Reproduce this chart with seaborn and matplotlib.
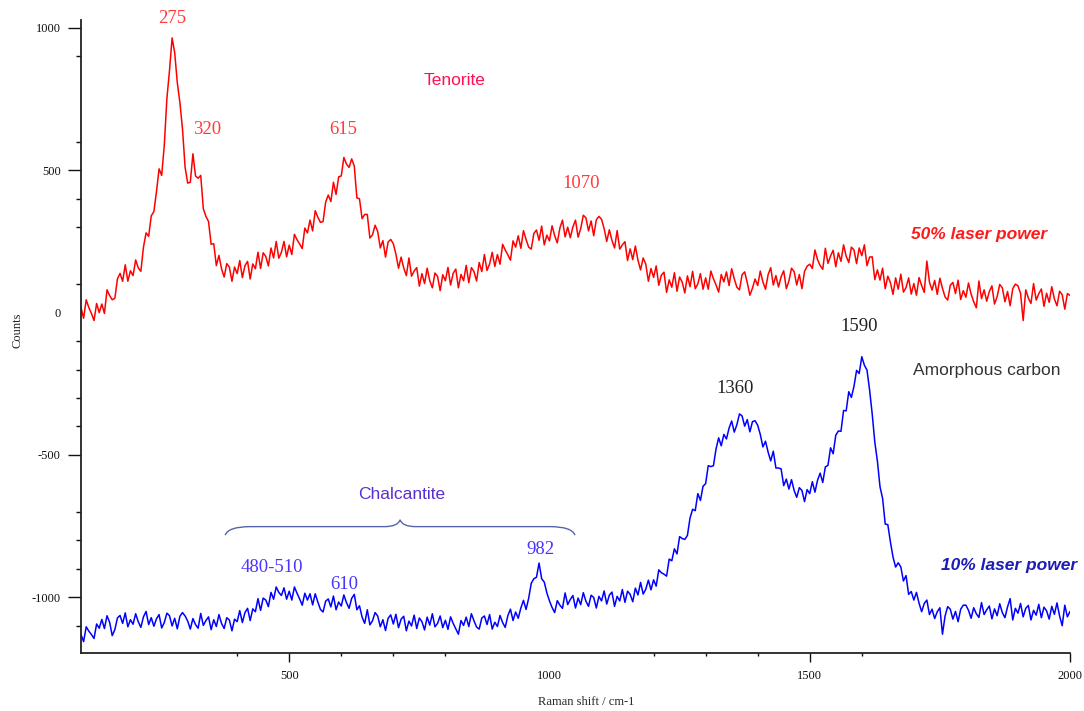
import numpy as np
import pandas as pd
import matplotlib
matplotlib.use("Agg")
import matplotlib.pyplot as plt
from matplotlib.path import Path
from matplotlib.patches import PathPatch
import seaborn as sns

# ---------------- data (step 5 cm-1) ----------------
shift_start, shift_stop, shift_step = 100, 2000, 5

red_50pct = [
    17, -20, 45, 18, -3, -28, 32, 0, 30, -3, 80, 60, 45, 50, 118, 138, 110, 168, 110, 147,
    130, 185, 157, 145, 230, 280, 268, 340, 355, 425, 505, 482, 588, 752, 850, 965, 913, 808, 738, 645,
    510, 455, 458, 558, 480, 472, 482, 365, 338, 320, 240, 242, 165, 201, 154, 125, 172, 160, 110, 160,
    137, 183, 123, 165, 180, 118, 171, 154, 212, 155, 210, 197, 164, 227, 192, 250, 191, 212, 250, 196,
    237, 204, 275, 256, 241, 225, 297, 280, 325, 287, 358, 335, 317, 320, 388, 413, 390, 458, 415, 477,
    480, 545, 522, 510, 540, 515, 403, 400, 330, 345, 345, 262, 273, 307, 285, 227, 253, 195, 248, 257,
    242, 205, 156, 195, 157, 130, 192, 128, 146, 158, 93, 137, 102, 156, 112, 87, 139, 127, 77, 133,
    112, 159, 97, 138, 153, 87, 134, 112, 166, 105, 158, 144, 111, 176, 144, 204, 148, 171, 212, 162,
    204, 170, 240, 220, 203, 184, 252, 230, 270, 226, 288, 257, 230, 223, 278, 290, 254, 304, 238, 272,
    252, 305, 270, 245, 297, 325, 266, 300, 263, 301, 325, 265, 295, 342, 333, 287, 322, 270, 326, 338,
    328, 295, 250, 291, 254, 227, 288, 223, 238, 249, 183, 224, 186, 234, 184, 150, 192, 170, 110, 155,
    124, 164, 96, 132, 142, 71, 115, 89, 140, 75, 125, 107, 69, 129, 91, 145, 84, 101, 137, 82,
    122, 82, 146, 119, 97, 72, 134, 108, 143, 95, 154, 119, 89, 80, 133, 143, 105, 61, 86, 118,
    95, 146, 108, 82, 133, 158, 97, 130, 90, 126, 147, 84, 111, 156, 144, 97, 134, 84, 145, 163,
    170, 155, 220, 186, 165, 152, 226, 173, 199, 219, 161, 210, 180, 238, 198, 176, 230, 220, 172, 227,
    200, 238, 165, 195, 196, 116, 150, 114, 156, 84, 128, 105, 64, 122, 82, 135, 72, 88, 122, 65,
    102, 61, 123, 95, 71, 181, 107, 79, 113, 64, 121, 85, 55, 44, 96, 106, 67, 114, 46, 77,
    54, 104, 65, 38, 17, 111, 49, 80, 40, 74, 94, 30, 56, 99, 87, 38, 74, 24, 84, 100,
    94, 68, -28, 80, 51, 32, 102, 44, 66, 83, 22, 68, 36, 91, 48, 24, 75, 63, 12, 67,
    60,
]

blue_10pct = [
    -1131, -1156, -1104, -1119, -1131, -1145, -1094, -1109, -1078, -1110, -1065, -1088, -1135, -1114, -1073, -1064, -1092, -1055, -1104, -1079,
    -1095, -1058, -1086, -1106, -1069, -1050, -1096, -1072, -1102, -1076, -1061, -1108, -1089, -1056, -1065, -1101, -1074, -1111, -1067, -1054,
    -1066, -1084, -1112, -1075, -1096, -1109, -1057, -1099, -1082, -1069, -1114, -1079, -1103, -1061, -1092, -1110, -1072, -1080, -1118, -1077,
    -1086, -1047, -1089, -1054, -1039, -1082, -1041, -1051, -1005, -1046, -1003, -1010, -1033, -983, -1007, -964, -983, -994, -967, -1007,
    -979, -1010, -964, -986, -1006, -1028, -986, -1010, -988, -1027, -988, -1017, -1043, -1052, -1014, -1006, -1034, -996, -1044, -1017,
    -1031, -992, -1019, -1039, -1004, -990, -1044, -1030, -1070, -1092, -1044, -1097, -1083, -1054, -1066, -1104, -1079, -1117, -1074, -1062,
    -1094, -1060, -1107, -1077, -1067, -1118, -1084, -1101, -1063, -1110, -1073, -1086, -1115, -1070, -1098, -1058, -1104, -1092, -1066, -1107,
    -1081, -1113, -1069, -1092, -1111, -1130, -1082, -1099, -1070, -1103, -1058, -1083, -1105, -1112, -1073, -1066, -1096, -1061, -1112, -1088,
    -1103, -1064, -1089, -1106, -1065, -1042, -1082, -1052, -1074, -1038, -1011, -1043, -1004, -951, -935, -930, -880, -935, -947, -985,
    -1013, -1036, -1054, -1012, -1028, -1039, -985, -1026, -1008, -994, -1038, -1003, -1026, -984, -1014, -1032, -993, -1001, -1038, -997,
    -1013, -978, -1024, -993, -982, -1032, -997, -1013, -973, -1018, -979, -990, -1016, -968, -992, -948, -989, -972, -940, -974,
    -939, -961, -904, -914, -919, -926, -866, -872, -830, -848, -787, -794, -797, -783, -722, -691, -696, -636, -660, -610,
    -601, -538, -541, -538, -479, -440, -468, -428, -444, -406, -381, -420, -394, -356, -363, -399, -376, -419, -383, -380,
    -396, -428, -472, -452, -490, -521, -487, -546, -546, -549, -608, -585, -620, -587, -625, -649, -615, -625, -664, -622,
    -636, -594, -631, -589, -564, -597, -542, -537, -475, -496, -431, -416, -417, -344, -345, -278, -298, -259, -203, -214,
    -155, -185, -202, -272, -356, -455, -522, -612, -653, -743, -745, -806, -859, -894, -879, -894, -943, -924, -990, -980,
    -1010, -983, -1021, -1051, -1022, -1010, -1061, -1042, -1075, -1051, -1037, -1130, -1066, -1033, -1042, -1077, -1050, -1086, -1042, -1028,
    -1028, -1046, -1074, -1037, -1058, -1071, -1019, -1061, -1044, -1031, -1076, -1041, -1065, -1023, -1054, -1072, -1034, -1005, -1080, -1039,
    -1056, -1022, -1069, -1039, -1029, -1080, -1046, -1063, -1025, -1072, -1035, -1048, -1077, -1032, -1060, -1020, -1066, -1100, -1028, -1069,
    -1050,
]

x_major = [500, 1000, 1500, 2000]
x_minor = [400, 600, 700, 800, 1200, 1300, 1400, 1600]
y_major = [-1000, -500, 0, 500, 1000]
y_minor = [-1100, -900, -800, -700, -400, -300, -200, -100, 100, 300, 400, 600, 900]

red_labels = [("275", 275, 1035), ("320", 342, 645), ("615", 603, 645), ("1070", 1061, 455)]
blue_labels = [("480-510", 467, -897), ("610", 605, -956), ("982", 982, -834)]
carbon_labels = [("1360", 1356, -265), ("1590", 1595, -50)]

# ---------------- build frame ----------------
shift = np.arange(shift_start, shift_stop + 1, shift_step)
df = pd.concat([
    pd.DataFrame({"shift": shift, "counts": red_50pct, "series": "50% laser power"}),
    pd.DataFrame({"shift": shift, "counts": blue_10pct, "series": "10% laser power"}),
])

sns.set_style("ticks")
plt.rcParams["font.family"] = ["Liberation Serif", "DejaVu Serif"]

fig = plt.figure(figsize=(10.84, 7.11), dpi=100)
ax = fig.add_axes([81 / 1084, 1 - 653 / 711, 989 / 1084, 633 / 711])

sns.lineplot(data=df, x="shift", y="counts", hue="series",
             palette={"50% laser power": "#ff0000", "10% laser power": "#0000ff"},
             linewidth=1.1, legend=False, ax=ax, sort=True, estimator=None)

ax.set_xlim(100, 2000)
ax.set_ylim(-1196, 1028)
sns.despine(ax=ax)
for s in ("left", "bottom"):
    ax.spines[s].set_linewidth(1.3)
    ax.spines[s].set_color("#222222")

ax.set_xticks(x_major)
ax.set_xticklabels([str(v) for v in x_major])
ax.set_xticks(x_minor, minor=True)
ax.set_yticks(y_major)
ax.set_yticklabels([str(v) for v in y_major])
ax.set_yticks(y_minor, minor=True)
ax.tick_params(axis="x", which="major", length=6.5, width=1, pad=6, labelsize=9, colors="#111111")
ax.tick_params(axis="x", which="minor", length=2.5, width=1, colors="#111111")
ax.tick_params(axis="y", which="major", length=9.5, width=1, pad=5, labelsize=9, colors="#111111")
ax.tick_params(axis="y", which="minor", length=3.8, width=1, colors="#111111")
for t in ax.xaxis.get_major_ticks():
    if t.get_loc() == 1000:
        t.tick1line.set_visible(False)
for t in ax.yaxis.get_major_ticks():
    if t.get_loc() == 0:
        t.tick1line.set_visible(False)

ax.set_xlabel("Raman shift / cm-1", fontsize=9)
ax.set_ylabel("Counts", fontsize=9)
ax.xaxis.set_label_coords(0.511, -0.068)
ax.yaxis.set_label_coords(-0.058, 0.51)

serif = ["Liberation Serif", "DejaVu Serif"]
sans = ["Liberation Sans", "DejaVu Sans"]

for txt, x, y in red_labels:
    ax.text(x, y, txt, color="#ff3b3b", fontsize=13.5, family=serif, ha="center", va="center")
for txt, x, y in blue_labels:
    ax.text(x, y, txt, color="#4a35ff", fontsize=13.5, family=serif, ha="center", va="center")
for txt, x, y in carbon_labels:
    ax.text(x, y, txt, color="#222222", fontsize=13.5, family=serif, ha="center", va="center")

ax.text(817, 814, "Tenorite", color="#ff1050", fontsize=12.5, family=sans, ha="center", va="center")
ax.text(1840, -205, "Amorphous carbon", color="#333333", fontsize=12.5, family=sans, ha="center", va="center")
ax.text(717, -640, "Chalcantite", color="#5a2fd0", fontsize=12.5, family=sans, ha="center", va="center")
ax.text(1825, 274, "50% laser power", color="#ff1a1a", fontsize=12.5, family=sans,
        fontweight="bold", fontstyle="italic", ha="center", va="center")
ax.text(1883, -890, "10% laser power", color="#1c1cb8", fontsize=12.5, family=sans,
        fontweight="bold", fontstyle="italic", ha="center", va="center")

# curly brace over the chalcantite region
bx0, bx1, btip, by_flat, by_end, by_tip = 377, 1049, 713, -752, -782, -728
verts = [(bx0, by_end), (bx0 + 6, by_flat), (bx0 + 48, by_flat),
         (btip - 30, by_flat),
         (btip - 4, by_flat), (btip, by_tip),
         (btip + 4, by_flat), (btip + 30, by_flat),
         (bx1 - 48, by_flat),
         (bx1 - 6, by_flat), (bx1, by_end)]
codes = [Path.MOVETO, Path.CURVE3, Path.CURVE3,
         Path.LINETO,
         Path.CURVE3, Path.CURVE3,
         Path.CURVE3, Path.CURVE3,
         Path.LINETO,
         Path.CURVE3, Path.CURVE3]
ax.add_patch(PathPatch(Path(verts, codes), facecolor="none", edgecolor="#5565a8", linewidth=1.0))

fig.savefig("out.png", dpi=100)
